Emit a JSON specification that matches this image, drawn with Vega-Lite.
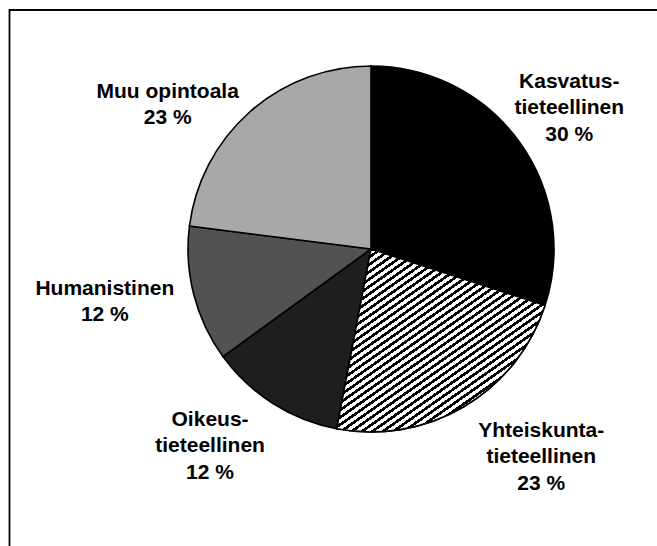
{
"$schema": "https://vega.github.io/schema/vega-lite/v6.json",
"width": 657,
"height": 546,
"autosize": {"type": "fit", "contains": "padding"},
"padding": {"left": 9.5, "top": 10, "right": 0, "bottom": 0},
"background": "white",
"view": {"stroke": "black", "strokeWidth": 1.8, "strokeDash": [647.5, 1183.5, 536]},
"data": {"values": [
{"field": "Kasvatustieteellinen", "share": 30, "order": 1, "label": "Kasvatus-\ntieteellinen\n30 %"},
{"field": "Yhteiskuntatieteellinen", "share": 23, "order": 2, "label": "Yhteiskunta-\ntieteellinen\n23 %"},
{"field": "Oikeustieteellinen", "share": 12, "order": 3, "label": "Oikeus-\ntieteellinen\n12 %"},
{"field": "Humanistinen", "share": 12, "order": 4, "label": "Humanistinen\n12 %"},
{"field": "Muu opintoala", "share": 23, "order": 5, "label": "Muu opintoala\n23 %"}
]},
"encoding": {
"theta": {"field": "share", "type": "quantitative", "stack": true},
"order": {"field": "order", "type": "quantitative"}
},
"layer": [
{"mark": {"type": "arc", "outerRadius": 183, "stroke": "black", "strokeWidth": 1.6, "x": {"expr": "width/2 + 37.75"}, "y": {"expr": "height/2 - 29"}},
 "encoding": {"fill": {"field": "field", "type": "nominal", "legend": null,
   "scale": {"domain": ["Kasvatustieteellinen", "Yhteiskuntatieteellinen", "Oikeustieteellinen", "Humanistinen", "Muu opintoala"],
             "range": ["#000000", "#ffffff", "#1e1e1e", "#525252", "#a8a8a8"]}}}},
{"mark": {"type": "arc", "outerRadius": 183, "stroke": "black", "strokeWidth": 1.6, "x": {"expr": "width/2 + 37.75"}, "y": {"expr": "height/2 - 29"},
  "fill": {"gradient": "linear", "x1": 0, "y1": 0, "x2": 0.98, "y2": 1.224, "stops": [
{"offset":0,"color":"#000"},{"offset":0.009,"color":"#000"},{"offset":0.009,"color":"#fff"},{"offset":0.02,"color":"#fff"},
{"offset":0.02,"color":"#000"},{"offset":0.029,"color":"#000"},{"offset":0.029,"color":"#fff"},{"offset":0.04,"color":"#fff"},
{"offset":0.04,"color":"#000"},{"offset":0.049,"color":"#000"},{"offset":0.049,"color":"#fff"},{"offset":0.06,"color":"#fff"},
{"offset":0.06,"color":"#000"},{"offset":0.069,"color":"#000"},{"offset":0.069,"color":"#fff"},{"offset":0.08,"color":"#fff"},
{"offset":0.08,"color":"#000"},{"offset":0.089,"color":"#000"},{"offset":0.089,"color":"#fff"},{"offset":0.1,"color":"#fff"},
{"offset":0.1,"color":"#000"},{"offset":0.109,"color":"#000"},{"offset":0.109,"color":"#fff"},{"offset":0.12,"color":"#fff"},
{"offset":0.12,"color":"#000"},{"offset":0.129,"color":"#000"},{"offset":0.129,"color":"#fff"},{"offset":0.14,"color":"#fff"},
{"offset":0.14,"color":"#000"},{"offset":0.149,"color":"#000"},{"offset":0.149,"color":"#fff"},{"offset":0.16,"color":"#fff"},
{"offset":0.16,"color":"#000"},{"offset":0.169,"color":"#000"},{"offset":0.169,"color":"#fff"},{"offset":0.18,"color":"#fff"},
{"offset":0.18,"color":"#000"},{"offset":0.189,"color":"#000"},{"offset":0.189,"color":"#fff"},{"offset":0.2,"color":"#fff"},
{"offset":0.2,"color":"#000"},{"offset":0.209,"color":"#000"},{"offset":0.209,"color":"#fff"},{"offset":0.22,"color":"#fff"},
{"offset":0.22,"color":"#000"},{"offset":0.229,"color":"#000"},{"offset":0.229,"color":"#fff"},{"offset":0.24,"color":"#fff"},
{"offset":0.24,"color":"#000"},{"offset":0.249,"color":"#000"},{"offset":0.249,"color":"#fff"},{"offset":0.26,"color":"#fff"},
{"offset":0.26,"color":"#000"},{"offset":0.269,"color":"#000"},{"offset":0.269,"color":"#fff"},{"offset":0.28,"color":"#fff"},
{"offset":0.28,"color":"#000"},{"offset":0.289,"color":"#000"},{"offset":0.289,"color":"#fff"},{"offset":0.3,"color":"#fff"},
{"offset":0.3,"color":"#000"},{"offset":0.309,"color":"#000"},{"offset":0.309,"color":"#fff"},{"offset":0.32,"color":"#fff"},
{"offset":0.32,"color":"#000"},{"offset":0.329,"color":"#000"},{"offset":0.329,"color":"#fff"},{"offset":0.34,"color":"#fff"},
{"offset":0.34,"color":"#000"},{"offset":0.349,"color":"#000"},{"offset":0.349,"color":"#fff"},{"offset":0.36,"color":"#fff"},
{"offset":0.36,"color":"#000"},{"offset":0.369,"color":"#000"},{"offset":0.369,"color":"#fff"},{"offset":0.38,"color":"#fff"},
{"offset":0.38,"color":"#000"},{"offset":0.389,"color":"#000"},{"offset":0.389,"color":"#fff"},{"offset":0.4,"color":"#fff"},
{"offset":0.4,"color":"#000"},{"offset":0.409,"color":"#000"},{"offset":0.409,"color":"#fff"},{"offset":0.42,"color":"#fff"},
{"offset":0.42,"color":"#000"},{"offset":0.429,"color":"#000"},{"offset":0.429,"color":"#fff"},{"offset":0.44,"color":"#fff"},
{"offset":0.44,"color":"#000"},{"offset":0.449,"color":"#000"},{"offset":0.449,"color":"#fff"},{"offset":0.46,"color":"#fff"},
{"offset":0.46,"color":"#000"},{"offset":0.469,"color":"#000"},{"offset":0.469,"color":"#fff"},{"offset":0.48,"color":"#fff"},
{"offset":0.48,"color":"#000"},{"offset":0.489,"color":"#000"},{"offset":0.489,"color":"#fff"},{"offset":0.5,"color":"#fff"},
{"offset":0.5,"color":"#000"},{"offset":0.509,"color":"#000"},{"offset":0.509,"color":"#fff"},{"offset":0.52,"color":"#fff"},
{"offset":0.52,"color":"#000"},{"offset":0.529,"color":"#000"},{"offset":0.529,"color":"#fff"},{"offset":0.54,"color":"#fff"},
{"offset":0.54,"color":"#000"},{"offset":0.549,"color":"#000"},{"offset":0.549,"color":"#fff"},{"offset":0.56,"color":"#fff"},
{"offset":0.56,"color":"#000"},{"offset":0.569,"color":"#000"},{"offset":0.569,"color":"#fff"},{"offset":0.58,"color":"#fff"},
{"offset":0.58,"color":"#000"},{"offset":0.589,"color":"#000"},{"offset":0.589,"color":"#fff"},{"offset":0.6,"color":"#fff"},
{"offset":0.6,"color":"#000"},{"offset":0.609,"color":"#000"},{"offset":0.609,"color":"#fff"},{"offset":0.62,"color":"#fff"},
{"offset":0.62,"color":"#000"},{"offset":0.629,"color":"#000"},{"offset":0.629,"color":"#fff"},{"offset":0.64,"color":"#fff"},
{"offset":0.64,"color":"#000"},{"offset":0.649,"color":"#000"},{"offset":0.649,"color":"#fff"},{"offset":0.66,"color":"#fff"},
{"offset":0.66,"color":"#000"},{"offset":0.669,"color":"#000"},{"offset":0.669,"color":"#fff"},{"offset":0.68,"color":"#fff"},
{"offset":0.68,"color":"#000"},{"offset":0.689,"color":"#000"},{"offset":0.689,"color":"#fff"},{"offset":0.7,"color":"#fff"},
{"offset":0.7,"color":"#000"},{"offset":0.709,"color":"#000"},{"offset":0.709,"color":"#fff"},{"offset":0.72,"color":"#fff"},
{"offset":0.72,"color":"#000"},{"offset":0.729,"color":"#000"},{"offset":0.729,"color":"#fff"},{"offset":0.74,"color":"#fff"},
{"offset":0.74,"color":"#000"},{"offset":0.749,"color":"#000"},{"offset":0.749,"color":"#fff"},{"offset":0.76,"color":"#fff"},
{"offset":0.76,"color":"#000"},{"offset":0.769,"color":"#000"},{"offset":0.769,"color":"#fff"},{"offset":0.78,"color":"#fff"},
{"offset":0.78,"color":"#000"},{"offset":0.789,"color":"#000"},{"offset":0.789,"color":"#fff"},{"offset":0.8,"color":"#fff"},
{"offset":0.8,"color":"#000"},{"offset":0.809,"color":"#000"},{"offset":0.809,"color":"#fff"},{"offset":0.82,"color":"#fff"},
{"offset":0.82,"color":"#000"},{"offset":0.829,"color":"#000"},{"offset":0.829,"color":"#fff"},{"offset":0.84,"color":"#fff"},
{"offset":0.84,"color":"#000"},{"offset":0.849,"color":"#000"},{"offset":0.849,"color":"#fff"},{"offset":0.86,"color":"#fff"},
{"offset":0.86,"color":"#000"},{"offset":0.869,"color":"#000"},{"offset":0.869,"color":"#fff"},{"offset":0.88,"color":"#fff"},
{"offset":0.88,"color":"#000"},{"offset":0.889,"color":"#000"},{"offset":0.889,"color":"#fff"},{"offset":0.9,"color":"#fff"},
{"offset":0.9,"color":"#000"},{"offset":0.909,"color":"#000"},{"offset":0.909,"color":"#fff"},{"offset":0.92,"color":"#fff"},
{"offset":0.92,"color":"#000"},{"offset":0.929,"color":"#000"},{"offset":0.929,"color":"#fff"},{"offset":0.94,"color":"#fff"},
{"offset":0.94,"color":"#000"},{"offset":0.949,"color":"#000"},{"offset":0.949,"color":"#fff"},{"offset":0.96,"color":"#fff"},
{"offset":0.96,"color":"#000"},{"offset":0.969,"color":"#000"},{"offset":0.969,"color":"#fff"},{"offset":0.98,"color":"#fff"},
{"offset":0.98,"color":"#000"},{"offset":0.989,"color":"#000"},{"offset":0.989,"color":"#fff"},{"offset":1,"color":"#fff"}
  ]}},
 "encoding": {"opacity": {"condition": {"test": "datum.field === 'Yhteiskuntatieteellinen'", "value": 1}, "value": 0}}},
{"mark": {"type": "text", "radius": 250, "dx": -4, "dy": -20.5, "x": {"expr": "width/2 + 37.75"}, "y": {"expr": "height/2 - 29"}, "font": "Liberation Sans", "fontSize": 21, "fontWeight": "bold", "lineHeight": 26.5, "lineBreak": "\n", "align": "center", "baseline": "middle", "fill": "black"},
 "encoding": {"text": {"condition": {"test": "datum.field === 'Kasvatustieteellinen'", "field": "label"}, "value": ""}}},
{"mark": {"type": "text", "radius": 250, "dx": 43, "dy": -33.5, "x": {"expr": "width/2 + 37.75"}, "y": {"expr": "height/2 - 29"}, "font": "Liberation Sans", "fontSize": 21, "fontWeight": "bold", "lineHeight": 26.5, "lineBreak": "\n", "align": "center", "baseline": "middle", "fill": "black"},
 "encoding": {"text": {"condition": {"test": "datum.field === 'Yhteiskuntatieteellinen'", "field": "label"}, "value": ""}}},
{"mark": {"type": "text", "radius": 250, "dx": -27, "dy": -40.5, "x": {"expr": "width/2 + 37.75"}, "y": {"expr": "height/2 - 29"}, "font": "Liberation Sans", "fontSize": 21, "fontWeight": "bold", "lineHeight": 26.5, "lineBreak": "\n", "align": "center", "baseline": "middle", "fill": "black"},
 "encoding": {"text": {"condition": {"test": "datum.field === 'Oikeustieteellinen'", "field": "label"}, "value": ""}}},
{"mark": {"type": "text", "radius": 250, "dx": -24, "dy": -22.25, "x": {"expr": "width/2 + 37.75"}, "y": {"expr": "height/2 - 29"}, "font": "Liberation Sans", "fontSize": 21, "fontWeight": "bold", "lineHeight": 26.5, "lineBreak": "\n", "align": "center", "baseline": "middle", "fill": "black"},
 "encoding": {"text": {"condition": {"test": "datum.field === 'Humanistinen'", "field": "label"}, "value": ""}}},
{"mark": {"type": "text", "radius": 250, "dx": -38, "dy": 30.25, "x": {"expr": "width/2 + 37.75"}, "y": {"expr": "height/2 - 29"}, "font": "Liberation Sans", "fontSize": 21, "fontWeight": "bold", "lineHeight": 26.5, "lineBreak": "\n", "align": "center", "baseline": "middle", "fill": "black"},
 "encoding": {"text": {"condition": {"test": "datum.field === 'Muu opintoala'", "field": "label"}, "value": ""}}}
]
}
